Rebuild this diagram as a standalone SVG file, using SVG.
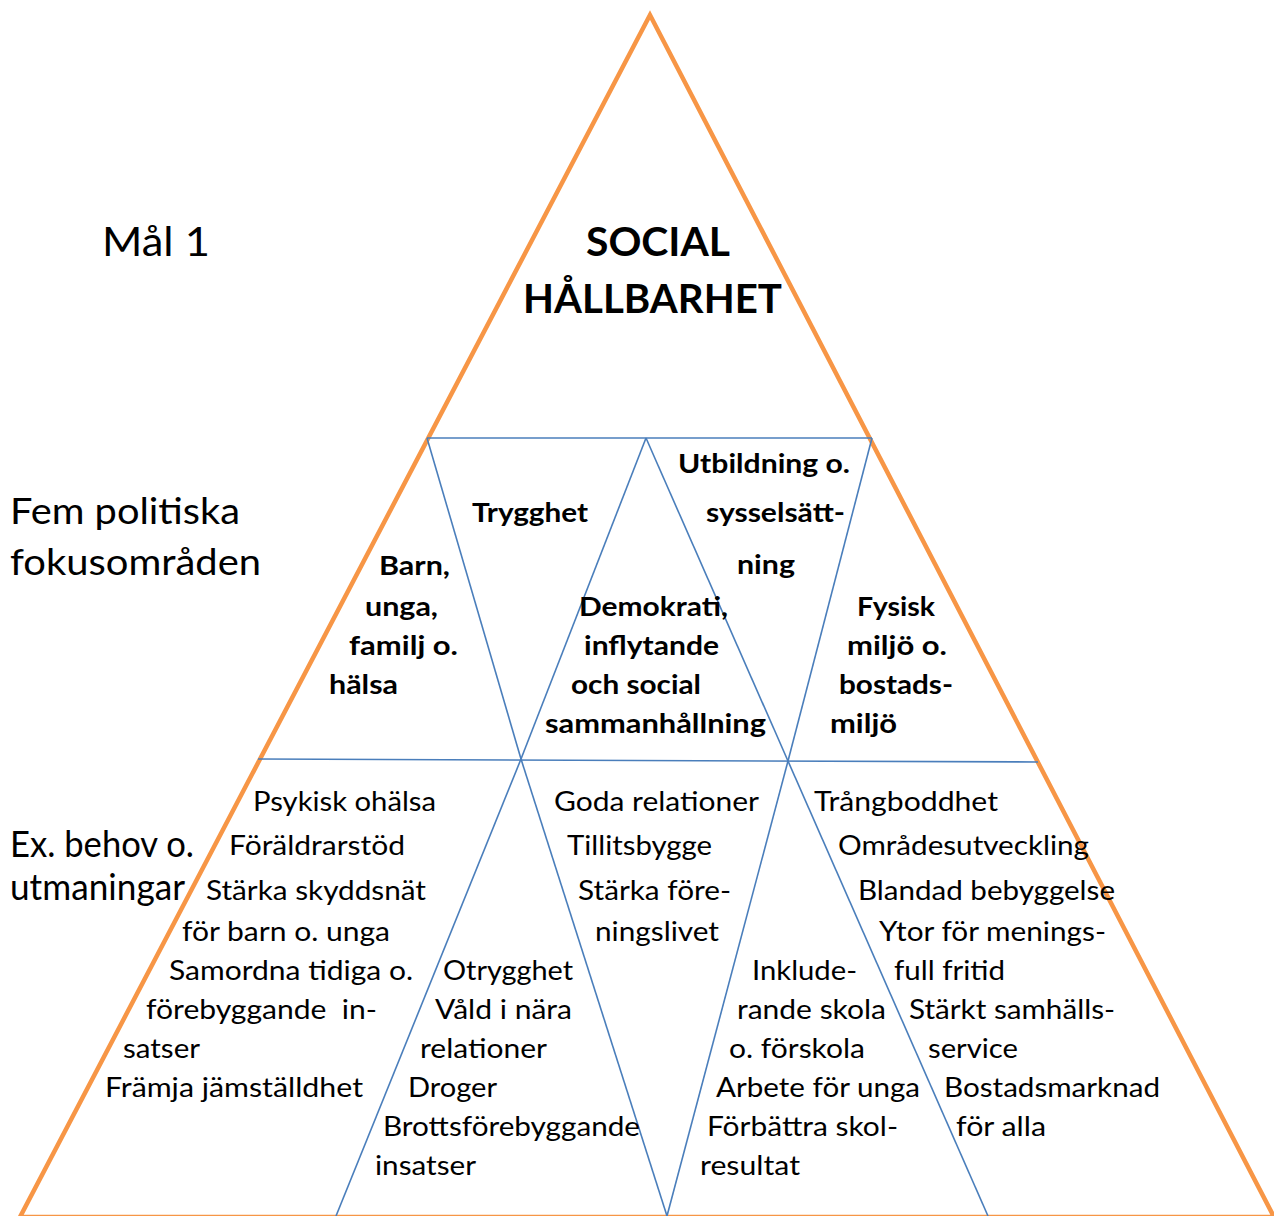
<svg xmlns="http://www.w3.org/2000/svg" width="1274" height="1216" viewBox="0 0 1274 1216">
<style>
text{font-family:Lato,"Open Sans","Liberation Sans",sans-serif;fill:#000}
.big{font-size:36px}
.title{font-size:40px;font-weight:bold}
.mal{font-size:40px}
.b{font-size:27px;font-weight:bold}
.r{font-size:27px}
.blue{stroke:#4A7EBB;stroke-width:1.6;fill:none}
</style>
<rect width="1274" height="1216" fill="#fff"/>
<g id="pyramid">
<polygon points="650,15 20,1217 1274,1217" fill="none" stroke="#F79646" stroke-width="4.5" stroke-linejoin="miter"/>
</g>
<g id="connectors">
<line class="blue" x1="427" y1="438" x2="872" y2="438"/>
<line class="blue" x1="258" y1="759" x2="1038" y2="762" stroke-width="2.4"/>
<line class="blue" x1="427" y1="438" x2="521" y2="759"/>
<line class="blue" x1="646" y1="438" x2="521" y2="759"/>
<line class="blue" x1="646" y1="438" x2="788" y2="761"/>
<line class="blue" x1="872" y1="438" x2="788" y2="761"/>
<line class="blue" x1="521" y1="759" x2="336" y2="1216"/>
<line class="blue" x1="521" y1="759" x2="667" y2="1216"/>
<line class="blue" x1="788" y1="761" x2="667" y2="1216"/>
<line class="blue" x1="788" y1="761" x2="988" y2="1216"/>
</g>
<g id="side-labels">
<text class="mal" x="102" y="256" textLength="108" lengthAdjust="spacingAndGlyphs">Mål 1</text>
<text class="big" x="10" y="524" textLength="230" lengthAdjust="spacingAndGlyphs">Fem politiska</text>
<text class="big" x="10" y="575" textLength="251" lengthAdjust="spacingAndGlyphs">fokusområden</text>
<text class="big" x="10" y="857" textLength="184" lengthAdjust="spacingAndGlyphs">Ex. behov o.</text>
<text class="big" x="10" y="900" textLength="175" lengthAdjust="spacingAndGlyphs">utmaningar</text>
</g>
<g id="apex">
<text class="title" x="586" y="256" textLength="144" lengthAdjust="spacingAndGlyphs">SOCIAL</text>
<text class="title" x="523" y="313" textLength="259" lengthAdjust="spacingAndGlyphs">HÅLLBARHET</text>
</g>
<g id="focus-barn">
<text class="b" x="379" y="575" textLength="71" lengthAdjust="spacingAndGlyphs">Barn,</text>
<text class="b" x="365" y="616" textLength="73" lengthAdjust="spacingAndGlyphs">unga,</text>
<text class="b" x="349" y="655" textLength="109" lengthAdjust="spacingAndGlyphs">familj o.</text>
<text class="b" x="329" y="694" textLength="69" lengthAdjust="spacingAndGlyphs">hälsa</text>
</g>
<g id="focus-trygghet">
<text class="b" x="472" y="522" textLength="116" lengthAdjust="spacingAndGlyphs">Trygghet</text>
</g>
<g id="focus-demokrati">
<text class="b" x="579" y="616" textLength="149" lengthAdjust="spacingAndGlyphs">Demokrati,</text>
<text class="b" x="584" y="655" textLength="135" lengthAdjust="spacingAndGlyphs">inflytande</text>
<text class="b" x="571" y="694" textLength="130" lengthAdjust="spacingAndGlyphs">och social</text>
<text class="b" x="545" y="733" textLength="221" lengthAdjust="spacingAndGlyphs">sammanhållning</text>
</g>
<g id="focus-utbildning">
<text class="b" x="678" y="473" textLength="172" lengthAdjust="spacingAndGlyphs">Utbildning o.</text>
<text class="b" x="706" y="522" textLength="139" lengthAdjust="spacingAndGlyphs">sysselsätt-</text>
<text class="b" x="737" y="574" textLength="58" lengthAdjust="spacingAndGlyphs">ning</text>
</g>
<g id="focus-fysisk">
<text class="b" x="857" y="616" textLength="78" lengthAdjust="spacingAndGlyphs">Fysisk</text>
<text class="b" x="847" y="655" textLength="100" lengthAdjust="spacingAndGlyphs">miljö o.</text>
<text class="b" x="839" y="694" textLength="114" lengthAdjust="spacingAndGlyphs">bostads-</text>
<text class="b" x="830" y="733" textLength="67" lengthAdjust="spacingAndGlyphs">miljö</text>
</g>
<g id="needs-barn">
<text class="r" x="253" y="811" textLength="183" lengthAdjust="spacingAndGlyphs">Psykisk ohälsa</text>
<text class="r" x="229" y="855" textLength="176" lengthAdjust="spacingAndGlyphs">Föräldrarstöd</text>
<text class="r" x="206" y="900" textLength="220" lengthAdjust="spacingAndGlyphs">Stärka skyddsnät</text>
<text class="r" x="182" y="941" textLength="208" lengthAdjust="spacingAndGlyphs">för barn o. unga</text>
<text class="r" x="169" y="980" textLength="244" lengthAdjust="spacingAndGlyphs">Samordna tidiga o.</text>
<text class="r" x="146" y="1019" textLength="231" lengthAdjust="spacingAndGlyphs" xml:space="preserve">förebyggande  in-</text>
<text class="r" x="123" y="1058" textLength="77" lengthAdjust="spacingAndGlyphs">satser</text>
<text class="r" x="105" y="1097" textLength="258" lengthAdjust="spacingAndGlyphs">Främja jämställdhet</text>
</g>
<g id="needs-trygghet">
<text class="r" x="443" y="980" textLength="130" lengthAdjust="spacingAndGlyphs">Otrygghet</text>
<text class="r" x="435" y="1019" textLength="137" lengthAdjust="spacingAndGlyphs">Våld i nära</text>
<text class="r" x="420" y="1058" textLength="127" lengthAdjust="spacingAndGlyphs">relationer</text>
<text class="r" x="408" y="1097" textLength="89" lengthAdjust="spacingAndGlyphs">Droger</text>
<text class="r" x="383" y="1136" textLength="257" lengthAdjust="spacingAndGlyphs">Brottsförebyggande</text>
<text class="r" x="375" y="1175" textLength="101" lengthAdjust="spacingAndGlyphs">insatser</text>
</g>
<g id="needs-demokrati">
<text class="r" x="554" y="811" textLength="205" lengthAdjust="spacingAndGlyphs">Goda relationer</text>
<text class="r" x="567" y="855" textLength="145" lengthAdjust="spacingAndGlyphs">Tillitsbygge</text>
<text class="r" x="578" y="900" textLength="153" lengthAdjust="spacingAndGlyphs">Stärka före-</text>
<text class="r" x="595" y="941" textLength="124" lengthAdjust="spacingAndGlyphs">ningslivet</text>
</g>
<g id="needs-utbildning">
<text class="r" x="752" y="980" textLength="105" lengthAdjust="spacingAndGlyphs">Inklude-</text>
<text class="r" x="737" y="1019" textLength="149" lengthAdjust="spacingAndGlyphs">rande skola</text>
<text class="r" x="729" y="1058" textLength="136" lengthAdjust="spacingAndGlyphs">o. förskola</text>
<text class="r" x="716" y="1097" textLength="204" lengthAdjust="spacingAndGlyphs">Arbete för unga</text>
<text class="r" x="707" y="1136" textLength="191" lengthAdjust="spacingAndGlyphs">Förbättra skol-</text>
<text class="r" x="700" y="1175" textLength="100" lengthAdjust="spacingAndGlyphs">resultat</text>
</g>
<g id="needs-fysisk">
<text class="r" x="814" y="811" textLength="184" lengthAdjust="spacingAndGlyphs">Trångboddhet</text>
<text class="r" x="838" y="855" textLength="251" lengthAdjust="spacingAndGlyphs">Områdesutveckling</text>
<text class="r" x="858" y="900" textLength="257" lengthAdjust="spacingAndGlyphs">Blandad bebyggelse</text>
<text class="r" x="879" y="941" textLength="227" lengthAdjust="spacingAndGlyphs">Ytor för menings-</text>
<text class="r" x="894" y="980" textLength="111" lengthAdjust="spacingAndGlyphs">full fritid</text>
<text class="r" x="909" y="1019" textLength="206" lengthAdjust="spacingAndGlyphs">Stärkt samhälls-</text>
<text class="r" x="928" y="1058" textLength="90" lengthAdjust="spacingAndGlyphs">service</text>
<text class="r" x="944" y="1097" textLength="216" lengthAdjust="spacingAndGlyphs">Bostadsmarknad</text>
<text class="r" x="956" y="1136" textLength="90" lengthAdjust="spacingAndGlyphs">för alla</text>
</g>
</svg>
